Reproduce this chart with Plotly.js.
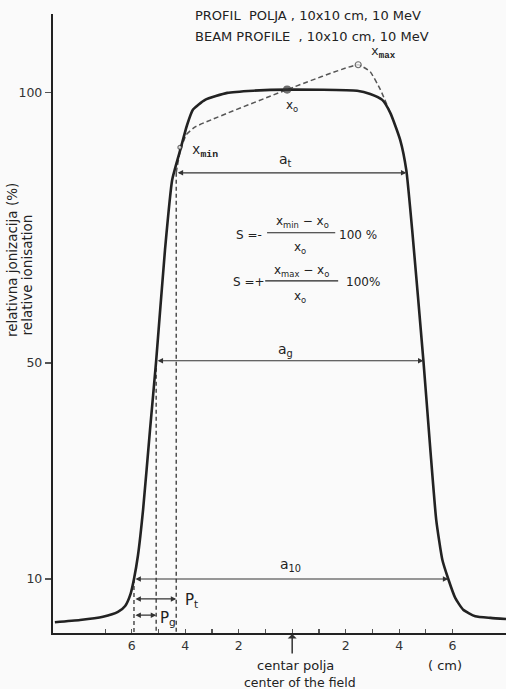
<!DOCTYPE html>
<html>
<head>
<meta charset="utf-8">
<script src="https://cdn.plot.ly/plotly-3.0.1.min.js"></script>
<style>
  html, body { margin: 0; padding: 0; background: #fafafa; }
  #chart { width: 506px; height: 689px; }
</style>
</head>
<body>
<div id="chart"></div>
<script>
// Beam profile, 10x10 cm field, 10 MeV: position across the field (cm) vs relative ionisation (%)
const profileX = [-8.88, -7.94, -7.08, -6.52, -6.25, -6.05, -5.92, -5.77, -5.58, -5.32, -5.09, -4.76, -4.49, -4.19, -3.93, -3.71, -3.26, -2.43, -1.46, -0.19, 2.43, 2.92, 3.37, 3.67, 4.04, 4.27, 4.49, 4.91, 5.17, 5.39, 5.62, 5.84, 6.1, 6.4, 6.85, 7.42, 8.0];
const profileY = [2.0, 2.4, 3.0, 3.9, 5.0, 7.2, 10, 14.4, 22.8, 37.6, 50.4, 70.9, 83.9, 89.4, 94.1, 96.9, 98.7, 100.0, 100.4, 100.6, 100.4, 99.8, 98.7, 96.3, 91.3, 85.7, 74.6, 50.4, 33.9, 20.9, 13.5, 10, 6.5, 4.3, 3.1, 2.8, 2.6];

// Symmetry construction through x_min, x_o and x_max
const symX = [-4.34, -4.2, -3.97, -3.63, -0.19, 2.47, 2.92, 3.3, 3.67];
const symY = [85.2, 89.0, 92.2, 93.7, 100.6, 105.2, 103.9, 100.6, 96.3];
const pointNames = ['x_min', 'x_o', 'x_max'];
const pointX = [-4.2, -0.19, 2.47];
const pointY = [89.9, 100.6, 105.2];

// Field widths a_t, a_g, a_10 at their dose levels
const widthNames = ['t', 'g', '10'];
const widthLevels = [85.2, 50.4, 10];
const leftEdges = [-4.34, -5.09, -5.92];
const rightEdges = [4.27, 4.91, 5.84];

// Penumbra widths P_t, P_g
const penNames = ['t', 'g'];
const penLevels = [6.3, 3.3];

const xTickVals = [-7, -6, -5, -4, -3, -2, -1, 0, 1, 2, 3, 4, 5, 6];
const xTickText = ['', '6', '', '4', '', '2', '', '', '', '2', '', '4', '', '6'];
const yTickVals = [10, 50, 100];

const ink = '#222';
const font = 'DejaVu Sans, sans-serif';
const mono = 'Liberation Mono, DejaVu Sans Mono, monospace';

const traces = [];

// edge verticals (dashed) from each edge down to the axis
leftEdges.forEach((x, i) => {
  traces.push({
    x: [x, x], y: [widthLevels[i], 0], mode: 'lines',
    line: { color: '#333', width: 1.3, dash: '4px,3px' },
    hoverinfo: 'skip', showlegend: false
  });
});

traces.push({
  x: symX, y: symY, mode: 'lines',
  line: { color: '#555', width: 1.5, dash: '5px,3px', shape: 'spline', smoothing: 0.4 },
  hoverinfo: 'skip', showlegend: false
});

traces.push({
  x: profileX, y: profileY, mode: 'lines',
  line: { color: ink, width: 2.6, shape: 'spline', smoothing: 0.5 },
  hoverinfo: 'skip', showlegend: false
});

traces.push({
  x: pointX, y: pointY, mode: 'markers', text: pointNames,
  marker: { size: [4, 7, 6], color: ['#fafafa', '#333', '#fafafa'], line: { color: '#333', width: 1.2 } },
  hoverinfo: 'skip', showlegend: false
});

const ann = [];

// double-headed width arrows
function span(x0, x1, y) {
  ann.push({
    x: x1, y: y, ax: x0, ay: y, xref: 'x', yref: 'y', axref: 'x', ayref: 'y',
    text: '', showarrow: true, arrowside: 'end+start',
    arrowhead: 2, startarrowhead: 2, arrowsize: 0.9, startarrowsize: 0.9,
    arrowwidth: 1.2, arrowcolor: '#333', standoff: 0, startstandoff: 0
  });
}
widthLevels.forEach((lv, i) => span(leftEdges[i], rightEdges[i], lv));
span(leftEdges[2], leftEdges[0], penLevels[0]);
span(leftEdges[2], leftEdges[1], penLevels[1]);

function label(text, x, y, size, fam, extra) {
  ann.push(Object.assign({
    x: x, y: y, xref: 'x', yref: 'y', text: text, showarrow: false,
    xanchor: 'center', yanchor: 'middle',
    font: { family: fam || font, size: size || 12, color: ink }
  }, extra || {}));
}

// width labels
label('a<sub>' + widthNames[0] + '</sub>', -0.25, 87.6, 14);
label('a<sub>' + widthNames[1] + '</sub>', -0.25, 52.4, 14);
label('a<sub>' + widthNames[2] + '</sub>', -0.05, 12.6, 14);
label('P<sub>' + penNames[0] + '</sub>', -3.78, 6.0, 15);
label('P<sub>' + penNames[1] + '</sub>', -4.65, 2.7, 15);

// symmetry point labels
label('x<sub><b>min</b></sub>', -3.25, 89.2, 14, mono);
label('x<sub>o</sub>', 0.0, 97.6, 12);
label('x<sub><b>max</b></sub>', 3.4, 107.4, 13, mono);

// symmetry formulas
label('S =-', -1.6, 73.7, 12);
label('x<sub>min</sub> − x<sub>o</sub>', 0.37, 76.0, 12);
label('x<sub>o</sub>', 0.3, 71.2, 12);
label('100 %', 2.45, 73.7, 12);
label('S =+', -1.6, 65.0, 12);
label('x<sub>max</sub> − x<sub>o</sub>', 0.34, 67.0, 12);
label('x<sub>o</sub>', 0.3, 62.2, 12);
label('100%', 2.65, 65.0, 12);

// titles and axis captions (paper coordinates)
function ptext(text, x, y, size, extra) {
  ann.push(Object.assign({
    x: x, y: y, xref: 'paper', yref: 'paper', text: text, showarrow: false,
    xanchor: 'center', yanchor: 'middle',
    font: { family: font, size: size, color: ink }
  }, extra || {}));
}
ptext('PROFIL  POLJA , 10x10 cm, 10 MeV', 0.309, 0.998, 13, { xanchor: 'left' });
ptext('BEAM PROFILE  , 10x10 cm, 10 MeV', 0.309, 0.963, 13, { xanchor: 'left' });
ptext('relativna jonizacija (%)', -0.090, 0.603, 13.5, { textangle: -90 });
ptext('relative ionisation', -0.057, 0.578, 13.5, { textangle: -90 });
ptext('centar polja', 0.536, -0.053, 13);
ptext('center of the field', 0.545, -0.080, 12.5);
ptext('( cm)', 0.866, -0.053, 13);

// arrow marking the centre of the field
ann.push({
  x: 0, y: 0, xref: 'x', yref: 'y', ax: 0, ay: 22, text: '',
  showarrow: true, arrowhead: 1, arrowsize: 1, arrowwidth: 1.5, arrowcolor: '#333', standoff: 1
});

// fraction bars of the two formulas
const bar = { type: 'line', xref: 'x', yref: 'y', line: { color: ink, width: 1.2 } };
const shapes = [
  Object.assign({ x0: -0.94, x1: 1.61, y0: 74.1, y1: 74.1 }, bar),
  Object.assign({ x0: -1.01, x1: 1.72, y0: 65.2, y1: 65.2 }, bar)
];

const layout = {
  width: 506, height: 689,
  margin: { l: 53, r: 0, t: 14, b: 56 },
  paper_bgcolor: '#fafafa', plot_bgcolor: '#fafafa',
  font: { family: font, size: 12, color: ink },
  showlegend: false,
  xaxis: {
    range: [-8.95, 8.0], showgrid: false, zeroline: false,
    showline: true, linecolor: ink, linewidth: 2,
    tickvals: xTickVals, ticktext: xTickText,
    ticks: 'inside', ticklen: 4, tickwidth: 1.2, tickcolor: '#555',
    tickfont: { family: font, size: 12.5, color: '#333' }
  },
  yaxis: {
    range: [0, 114.6], showgrid: false, zeroline: false,
    showline: true, linecolor: ink, linewidth: 2.2,
    tickvals: yTickVals, ticks: 'outside', ticklen: 6, tickwidth: 1.2, tickcolor: '#555',
    tickfont: { family: font, size: 12.5, color: '#333' }
  },
  shapes: shapes,
  annotations: ann
};

Plotly.newPlot('chart', traces, layout, { staticPlot: true, displayModeBar: false });
</script>
</body>
</html>
